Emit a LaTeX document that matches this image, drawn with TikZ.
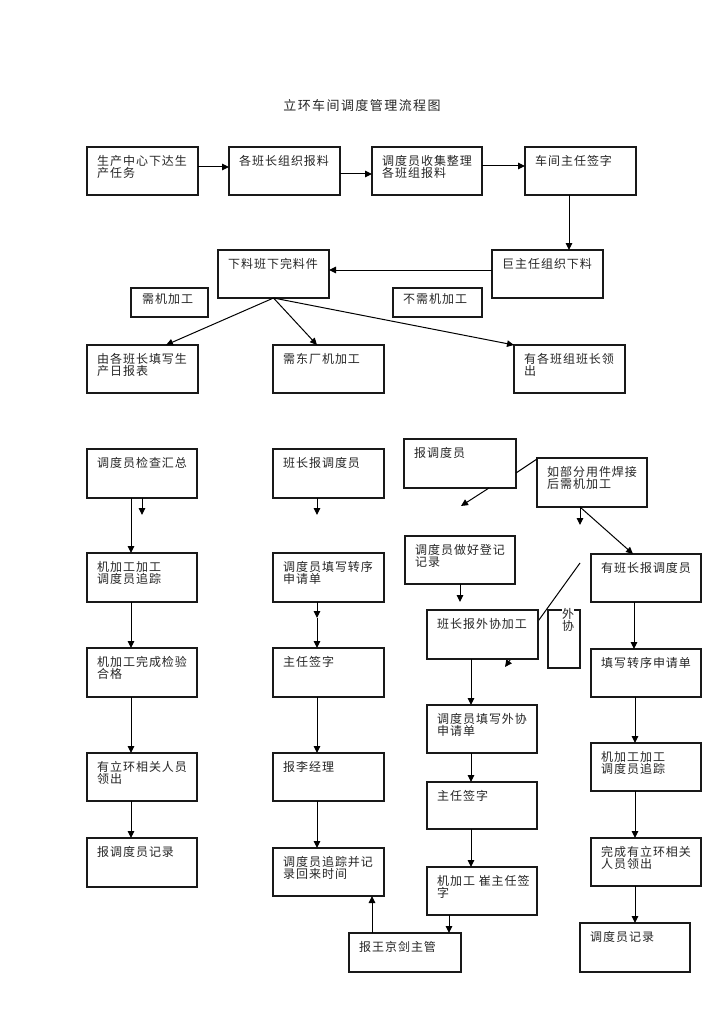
\documentclass[tikz,border=0pt]{standalone}
\usepackage{fontspec}
\newfontfamily\cjk[LetterSpace=8]{Noto Sans CJK SC}
\newfontfamily\cjkt[LetterSpace=11]{Noto Sans CJK SC}
\usetikzlibrary{arrows.meta}
\newcommand\bx[6]{%
  \node[box, anchor=north west, minimum width={(#4-#2)*1pt}, minimum height={(#5-#3)*1pt}] (#1) at (#2,#3) {};
  \node[txt, anchor=north west] (#1t) at ([xshift=10pt,yshift=-8pt]#1.north west) {#6};}
\begin{document}
\begin{tikzpicture}[x=1pt,y=-1pt,
  box/.style={draw=black!90, line width=1.3pt, fill=white, inner sep=0pt, outer sep=0pt},
  txt/.style={inner sep=0pt, align=left, text=black!85, font=\cjk\fontsize{12}{12.5}\selectfont},
  arr/.style={line width=1pt, -{Triangle[length=7pt,width=6.5pt]}},
  ln/.style={line width=1pt}]
\useasboundingbox[fill=white] (0,0) rectangle (724,1024);
\node[font=\cjkt\fontsize{13}{14}\selectfont, text=black!85, inner sep=0pt] (title) at (362,106) {立环车间调度管理流程图};
% diagonal behind the outsourcing box
\coordinate (d1) at (580,563);
\coordinate (d2) at (505,667);
\draw[arr] (d1) -- (d2);
% row 1
\bx{b1}{87}{147}{198}{195}{生产中心下达生\\产任务}
\bx{b2}{229}{147}{340}{195}{各班长组织报料}
\bx{b3}{372}{147}{482}{195}{调度员收集整理\\各班组报料}
\bx{b4}{525}{147}{636}{195}{车间主任签字}
\bx{b5}{492}{250}{603}{298}{巨主任组织下料}
\bx{b6}{218}{250}{329}{298}{下料班下完料件}
\node[box, anchor=north west, minimum width=77pt, minimum height=29pt] (l1) at (131,288) {};
\node[txt, anchor=north west] (l1t) at ([xshift=11pt,yshift=-5pt]l1.north west) {需机加工};
\node[box, anchor=north west, minimum width=89pt, minimum height=29pt] (l2) at (393,288) {};
\node[txt, anchor=north west] (l2t) at ([xshift=10pt,yshift=-5pt]l2.north west) {不需机加工};
\bx{b7}{87}{345}{198}{393}{由各班长填写生\\产日报表}
\bx{b8}{273}{345}{384}{393}{需东厂机加工}
\bx{b9}{514}{345}{625}{393}{有各班组班长领\\出}
% left column
\bx{c1}{87}{449}{197}{498}{调度员检查汇总}
\bx{c2}{87}{553}{197}{602}{机加工加工\\调度员追踪}
\bx{c3}{87}{648}{197}{697}{机加工完成检验\\合格}
\bx{c4}{87}{753}{197}{801}{有立环相关人员\\领出}
\bx{c5}{87}{838}{197}{887}{报调度员记录}
% middle column
\bx{m1}{273}{449}{384}{498}{班长报调度员}
\bx{m2}{273}{553}{384}{602}{调度员填写转序\\申请单}
\bx{m3}{273}{648}{384}{697}{主任签字}
\bx{m4}{273}{753}{384}{801}{报李经理}
\bx{m5}{273}{848}{384}{896}{调度员追踪并记\\录回来时间}
% third column
\bx{r1}{404}{439}{516}{488}{报调度员}
\bx{r2}{405}{536}{515}{584}{调度员做好登记\\记录}
\bx{r3}{427}{610}{538}{659}{班长报外协加工}
\node[box, anchor=north west, minimum width=32pt, minimum height=58pt] (wx) at (548,610) {};
\node[txt, anchor=north west, fill=white] (wxt) at ([xshift=14pt,yshift=2pt]wx.north west) {外\\协};
\bx{r4}{427}{705}{537}{753}{调度员填写外协\\申请单}
\bx{r5}{427}{782}{537}{829}{主任签字}
\bx{r6}{427}{867}{537}{915}{机加工 崔主任签\\字}
\bx{r7}{349}{933}{461}{972}{报王京剑主管}
% right column
\bx{s0}{537}{458}{647}{507}{如部分用件焊接\\后需机加工}
\bx{s1}{591}{554}{701}{602}{有班长报调度员}
\bx{s2}{591}{649}{701}{697}{填写转序申请单}
\bx{s3}{591}{743}{701}{791}{机加工加工\\调度员追踪}
\bx{s4}{591}{838}{701}{886}{完成有立环相关\\人员领出}
\bx{s5}{580}{923}{690}{972}{调度员记录}
% connectors row 1
\draw[arr] ([yshift=4pt]b1.east) -- ([yshift=4pt]b2.west);
\draw[arr] ([yshift=-3pt]b2.east) -- ([yshift=-3pt]b3.west);
\draw[arr] ([yshift=5pt]b3.east) -- ([yshift=5pt]b4.west);
\draw[arr] ([xshift=44pt]b4.south west) coordinate (p1) -- (p1 |- b5.north);
\draw[arr] ([yshift=4pt]b5.west) -- ([yshift=4pt]b6.east);
\draw[arr] (b6.south) -- ([xshift=79pt]b7.north west);
\draw[arr] (b6.south) -- ([xshift=44pt]b8.north west);
\draw[arr] (b6.south) -- (b9.north west);
% left column
\draw[arr] ([xshift=44pt]c1.south west) coordinate (p2) -- (p2 |- c2.north);
\draw[arr] ([xshift=55pt]c1.south west) -- ++(0,17);
\draw[arr] ([xshift=44pt]c2.south west) coordinate (p3) -- (p3 |- c3.north);
\draw[arr] ([xshift=44pt]c3.south west) coordinate (p4) -- (p4 |- c4.north);
\draw[arr] ([xshift=44pt]c4.south west) coordinate (p5) -- (p5 |- c5.north);
% middle column
\draw[arr] ([xshift=44pt]m1.south west) -- ++(0,17);
\draw[arr] ([xshift=44pt]m2.south west) -- ++(0,16) coordinate (m2x);
\draw[arr] (m2x) -- (m2x |- m3.north);
\draw[arr] ([xshift=44pt]m3.south west) coordinate (p6) -- (p6 |- m4.north);
\draw[arr] ([xshift=44pt]m4.south west) coordinate (p7) -- (p7 |- m5.north);
\draw[arr] ([xshift=23pt]r7.north west) coordinate (p8) -- (p8 |- m5.south);
% third column
\draw[ln] ([yshift=-9.5pt]r1.east) -- ([yshift=23.5pt]s0.west);
\draw[arr] ([xshift=85pt]r1.south west) -- ++(-28,18);
\draw[arr] ([xshift=55pt]r2.south west) -- ++(0,18);
\draw[arr] ([xshift=44pt]r3.south west) coordinate (p9) -- (p9 |- r4.north);
\draw[arr] ([xshift=44pt]r4.south west) coordinate (p10) -- (p10 |- r5.north);
\draw[arr] ([xshift=44pt]r5.south west) coordinate (p11) -- (p11 |- r6.north);
\draw[arr] ([xshift=22pt]r6.south west) coordinate (p12) -- (p12 |- r7.north);
% right column
\draw[arr] ([xshift=43pt]s0.south west) -- ++(0,18);
\draw[arr] ([xshift=43pt]s0.south west) -- ([xshift=42pt]s1.north west);
\draw[arr] ([xshift=43pt]s1.south west) coordinate (p13) -- (p13 |- s2.north);
\draw[arr] ([xshift=44pt]s2.south west) coordinate (p14) -- (p14 |- s3.north);
\draw[arr] ([xshift=44pt]s3.south west) coordinate (p15) -- (p15 |- s4.north);
\draw[arr] ([xshift=44pt]s4.south west) coordinate (p16) -- (p16 |- s5.north);
\end{tikzpicture}
\end{document}
